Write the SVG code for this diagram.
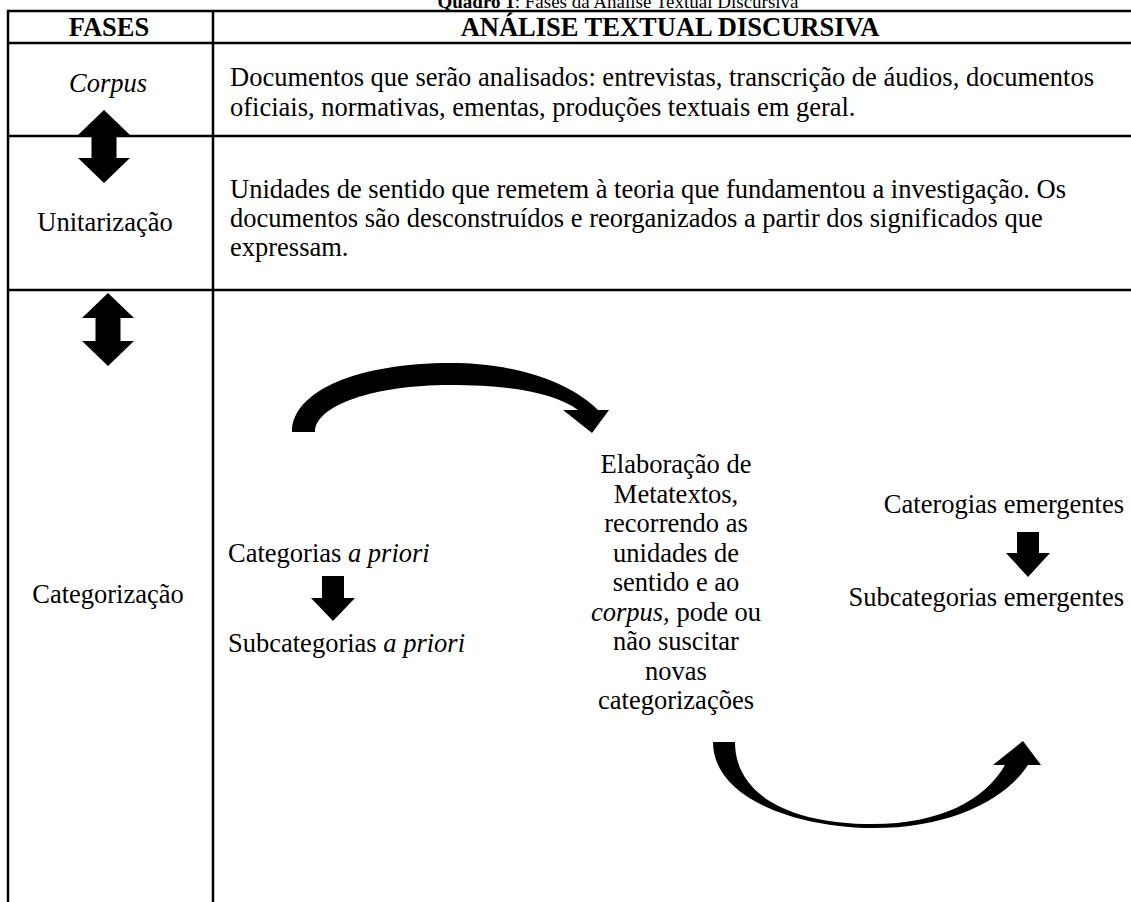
<svg xmlns="http://www.w3.org/2000/svg" width="1131" height="902" viewBox="0 0 1131 902">
<style>
text{font-family:"Liberation Serif","Times New Roman",serif;font-size:26.5px;fill:#000}
.b{font-weight:bold}
.i{font-style:italic}
.c{text-anchor:middle}
.e{text-anchor:end}
.ln{stroke:#000;stroke-width:2.5;fill:none}
.ar{fill:#000;stroke:none}
</style>
<rect x="0" y="0" width="1131" height="902" fill="#fff"/>
<g id="title">
<text x="618" y="8" class="c" style="font-size:19px"><tspan class="b">Quadro 1</tspan>: Fases da Análise Textual Discursiva</text>
</g>
<g id="table">
<line class="ln" x1="7" y1="11" x2="1131" y2="11"/>
<line class="ln" x1="7" y1="43" x2="1131" y2="43"/>
<line class="ln" x1="7" y1="136" x2="1131" y2="136"/>
<line class="ln" x1="7" y1="290" x2="1131" y2="290"/>
<line class="ln" x1="8" y1="10" x2="8" y2="902"/>
<line class="ln" x1="213" y1="10" x2="213" y2="902"/>
</g>
<g id="header">
<text x="109" y="36" class="c b">FASES</text>
<text x="670" y="36" class="c b">ANÁLISE TEXTUAL DISCURSIVA</text>
</g>
<g id="corpus">
<text x="108" y="92" class="c i">Corpus</text>
<text x="230" y="86">Documentos que serão analisados: entrevistas, transcrição de áudios, documentos</text>
<text x="230" y="116">oficiais, normativas, ementas, produções textuais em geral.</text>
</g>
<g id="unitarizacao">
<text x="105" y="231" class="c">Unitarização</text>
<text x="230" y="198">Unidades de sentido que remetem à teoria que fundamentou a investigação. Os</text>
<text x="230" y="227">documentos são desconstruídos e reorganizados a partir dos significados que</text>
<text x="230" y="256">expressam.</text>
</g>
<g id="categorizacao">
<text x="108" y="603" class="c">Categorização</text>
</g>
<g id="apriori">
<text x="228" y="562">Categorias <tspan class="i">a priori</tspan></text>
<text x="228" y="652">Subcategorias <tspan class="i">a priori</tspan></text>
</g>
<g id="metatextos">
<text class="c" x="676" y="473">Elaboração de</text>
<text class="c" x="676" y="502.5">Metatextos,</text>
<text class="c" x="676" y="532">recorrendo as</text>
<text class="c" x="676" y="561.5">unidades de</text>
<text class="c" x="676" y="591">sentido e ao</text>
<text class="c" x="676" y="620.5"><tspan class="i">corpus,</tspan> pode ou</text>
<text class="c" x="676" y="650">não suscitar</text>
<text class="c" x="676" y="679.5">novas</text>
<text class="c" x="676" y="709">categorizações</text>
</g>
<g id="emergentes">
<text x="1124" y="513" class="e">Caterogias emergentes</text>
<text x="1124" y="606" class="e">Subcategorias emergentes</text>
</g>
<g id="connectors">
<path class="ar" d="M104,110 L130,135 L116.5,135 L116.5,158 L130,158 L104,183 L78,158 L91.5,158 L91.5,135 L78,135 Z"/>
<path class="ar" d="M108,293 L134,318 L120.5,318 L120.5,341 L134,341 L108,366 L82,341 L95.5,341 L95.5,318 L82,318 Z"/>
<path class="ar" d="M322,576 L344,576 L344,598 L355,598 L333,621 L311,598 L322,598 Z"/>
<path class="ar" d="M1017,532 L1039,532 L1039,553 L1050,553 L1028,577 L1006,553 L1017,553 Z"/>
<path class="ar" d="M292,432 C292,390 360,363 450,363 C520,363 572,384 598,410 L609,410 L592,433 L563,410 L578,410 C555,393 510,385 450,385 C375,385 315,405 315,432 Z"/>
<path class="ar" d="M713,742 C713,800 800,828 873,828 C950,828 1005,800 1028,765 L1041,765 L1023,741 L993,765 L1005,765 C985,800 940,824 873,824 C790,824 735,795 735,742 Z"/>
</g>
</svg>
